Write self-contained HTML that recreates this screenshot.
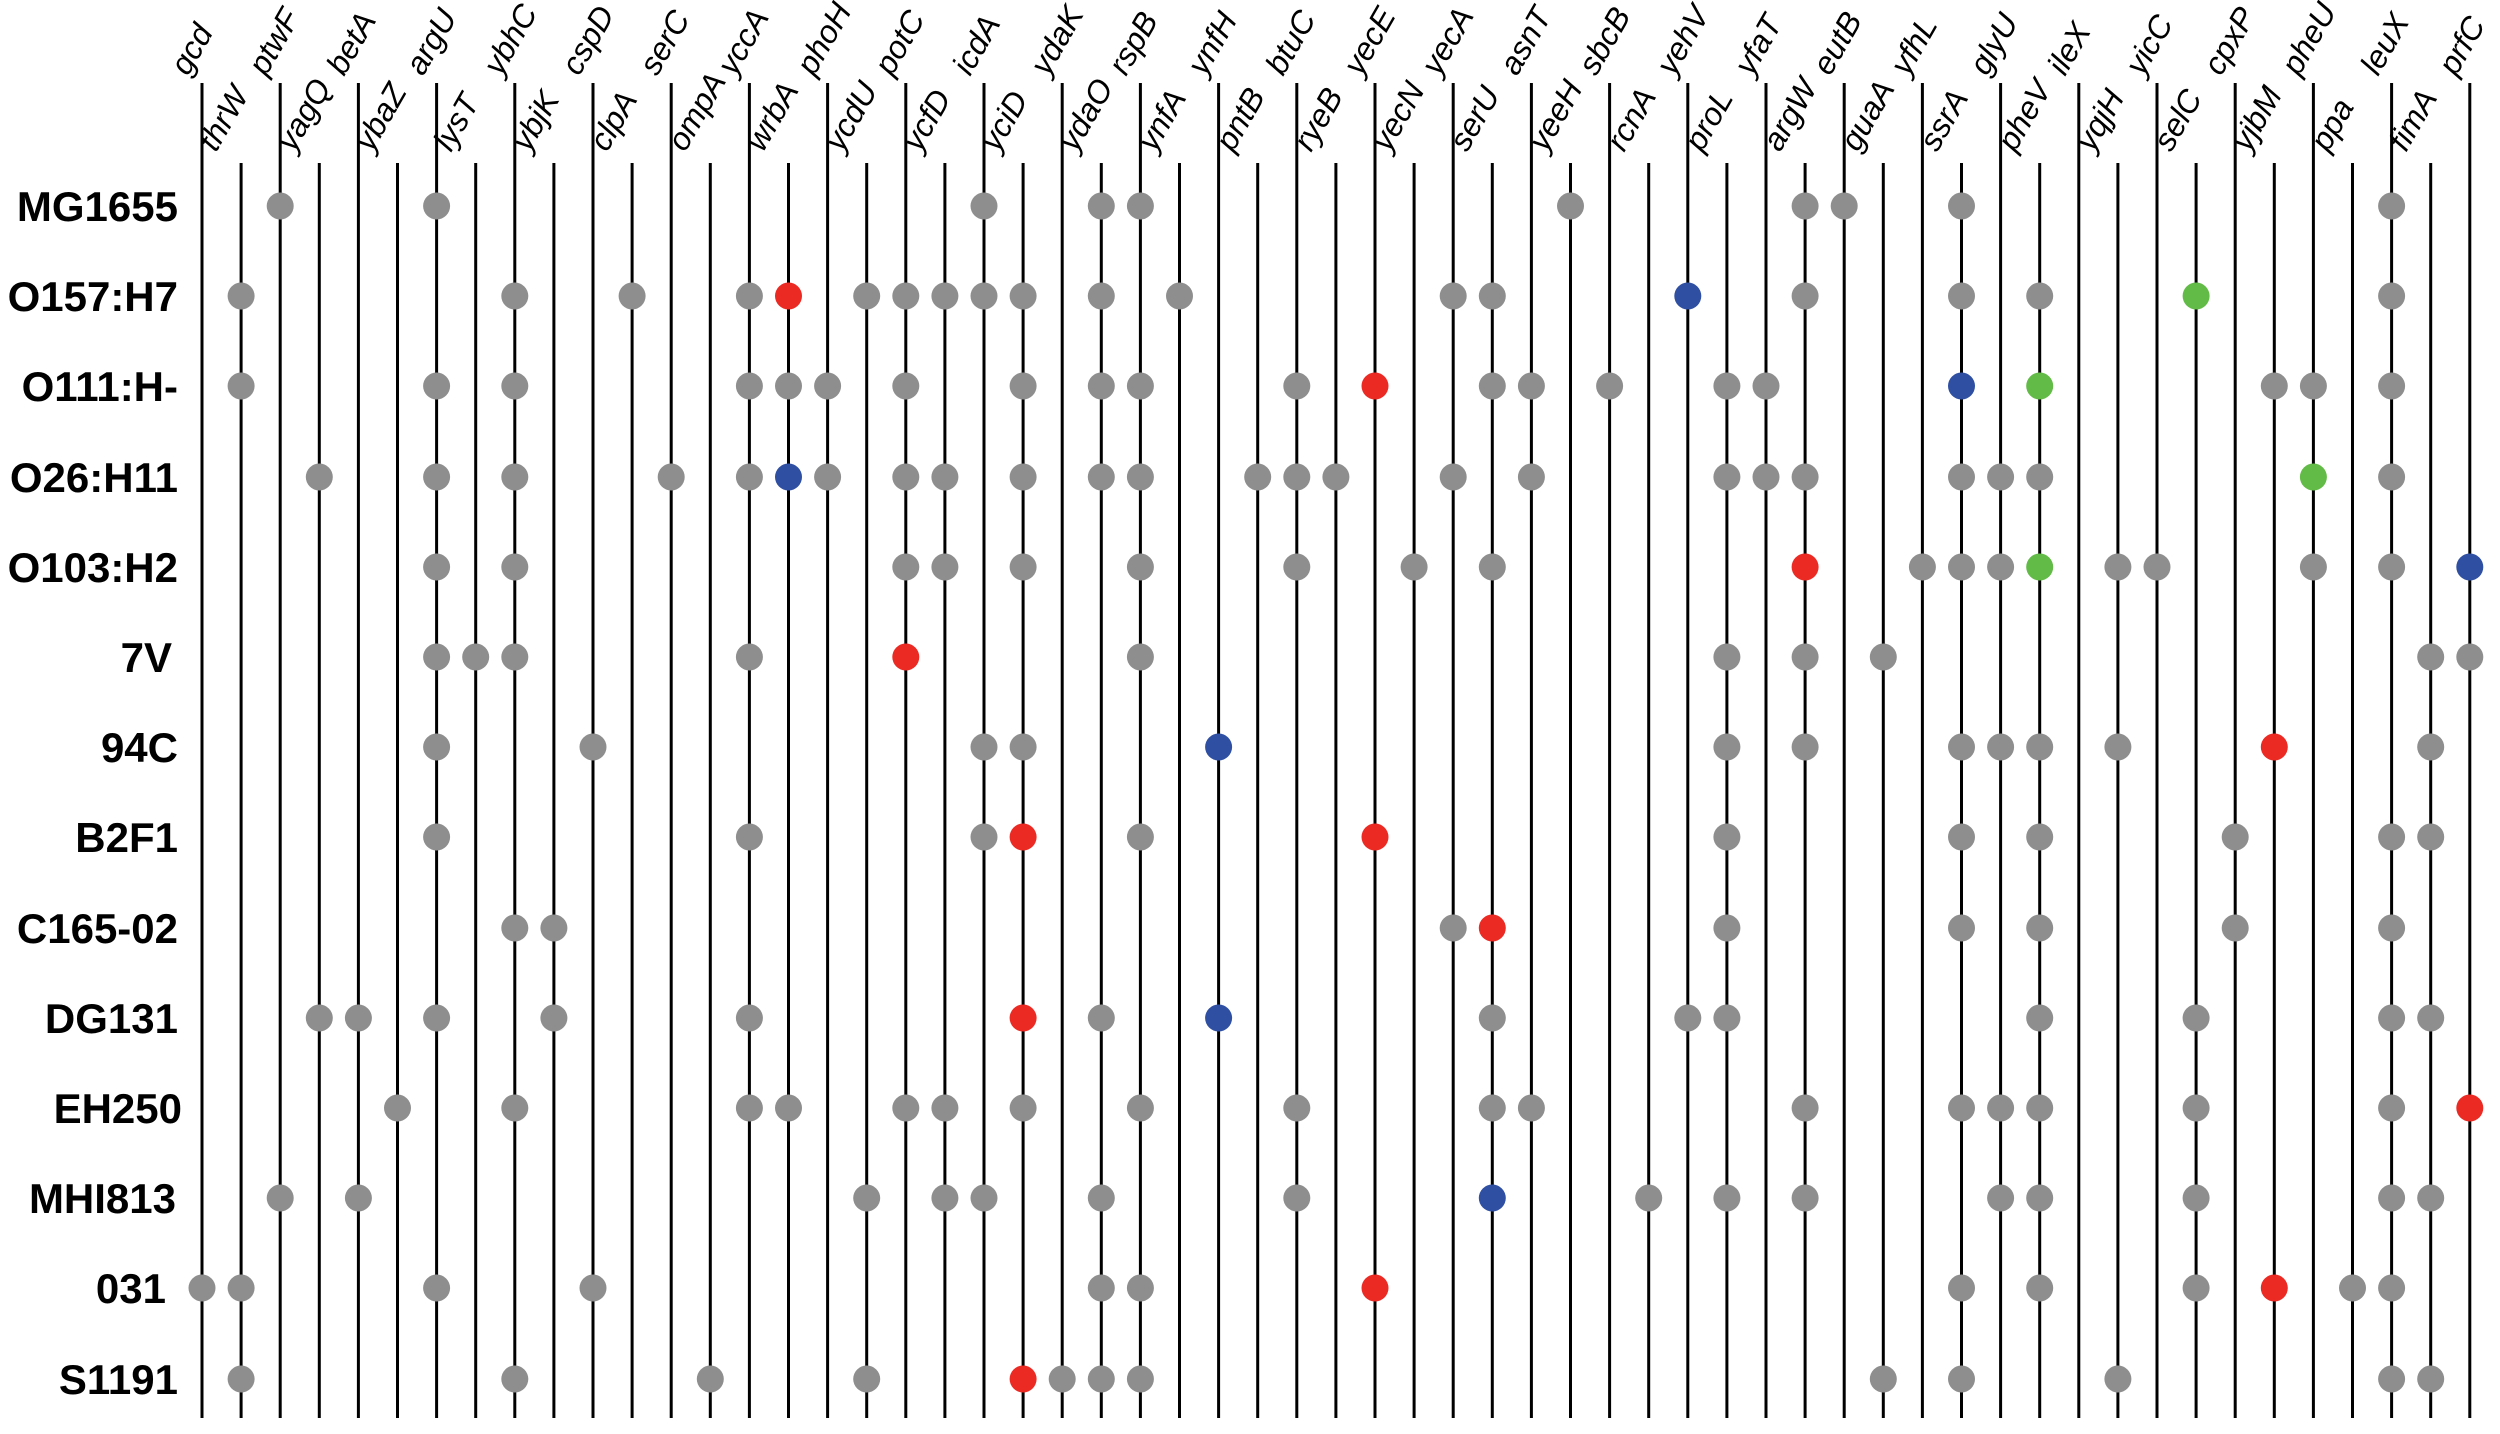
<!DOCTYPE html>
<html><head><meta charset="utf-8"><style>
html,body{margin:0;padding:0;background:#fff;}
svg{display:block;}
.g{font-family:"Liberation Sans",sans-serif;font-style:italic;font-size:32px;fill:#000;}
.r{font-family:"Liberation Sans",sans-serif;font-weight:bold;font-size:42px;fill:#000;text-anchor:end;}
line{stroke:#000;stroke-width:3;}
circle{r:13.5px;}
.a{fill:#8e8e8e;} .R{fill:#ec2a24;} .B{fill:#2f4fa3;} .G{fill:#62bb46;}
</style></head><body>
<svg width="2500" height="1434" viewBox="0 0 2500 1434" xmlns="http://www.w3.org/2000/svg">
<g id="lines">
<line x1="202" y1="83" x2="202" y2="1418"/><line x1="241.1" y1="163" x2="241.1" y2="1418"/>
<line x1="280.2" y1="83" x2="280.2" y2="1418"/><line x1="319.3" y1="163" x2="319.3" y2="1418"/>
<line x1="358.4" y1="83" x2="358.4" y2="1418"/><line x1="397.5" y1="163" x2="397.5" y2="1418"/>
<line x1="436.6" y1="83" x2="436.6" y2="1418"/><line x1="475.7" y1="163" x2="475.7" y2="1418"/>
<line x1="514.8" y1="83" x2="514.8" y2="1418"/><line x1="553.9" y1="163" x2="553.9" y2="1418"/>
<line x1="593" y1="83" x2="593" y2="1418"/><line x1="632.1" y1="163" x2="632.1" y2="1418"/>
<line x1="671.2" y1="83" x2="671.2" y2="1418"/><line x1="710.3" y1="163" x2="710.3" y2="1418"/>
<line x1="749.4" y1="83" x2="749.4" y2="1418"/><line x1="788.5" y1="163" x2="788.5" y2="1418"/>
<line x1="827.6" y1="83" x2="827.6" y2="1418"/><line x1="866.7" y1="163" x2="866.7" y2="1418"/>
<line x1="905.8" y1="83" x2="905.8" y2="1418"/><line x1="944.9" y1="163" x2="944.9" y2="1418"/>
<line x1="984" y1="83" x2="984" y2="1418"/><line x1="1023.1" y1="163" x2="1023.1" y2="1418"/>
<line x1="1062.2" y1="83" x2="1062.2" y2="1418"/><line x1="1101.3" y1="163" x2="1101.3" y2="1418"/>
<line x1="1140.4" y1="83" x2="1140.4" y2="1418"/><line x1="1179.5" y1="163" x2="1179.5" y2="1418"/>
<line x1="1218.6" y1="83" x2="1218.6" y2="1418"/><line x1="1257.7" y1="163" x2="1257.7" y2="1418"/>
<line x1="1296.8" y1="83" x2="1296.8" y2="1418"/><line x1="1335.9" y1="163" x2="1335.9" y2="1418"/>
<line x1="1375" y1="83" x2="1375" y2="1418"/><line x1="1414.1" y1="163" x2="1414.1" y2="1418"/>
<line x1="1453.2" y1="83" x2="1453.2" y2="1418"/><line x1="1492.3" y1="163" x2="1492.3" y2="1418"/>
<line x1="1531.4" y1="83" x2="1531.4" y2="1418"/><line x1="1570.5" y1="163" x2="1570.5" y2="1418"/>
<line x1="1609.6" y1="83" x2="1609.6" y2="1418"/><line x1="1648.7" y1="163" x2="1648.7" y2="1418"/>
<line x1="1687.8" y1="83" x2="1687.8" y2="1418"/><line x1="1726.9" y1="163" x2="1726.9" y2="1418"/>
<line x1="1766" y1="83" x2="1766" y2="1418"/><line x1="1805.1" y1="163" x2="1805.1" y2="1418"/>
<line x1="1844.2" y1="83" x2="1844.2" y2="1418"/><line x1="1883.3" y1="163" x2="1883.3" y2="1418"/>
<line x1="1922.4" y1="83" x2="1922.4" y2="1418"/><line x1="1961.5" y1="163" x2="1961.5" y2="1418"/>
<line x1="2000.6" y1="83" x2="2000.6" y2="1418"/><line x1="2039.7" y1="163" x2="2039.7" y2="1418"/>
<line x1="2078.8" y1="83" x2="2078.8" y2="1418"/><line x1="2117.9" y1="163" x2="2117.9" y2="1418"/>
<line x1="2157" y1="83" x2="2157" y2="1418"/><line x1="2196.1" y1="163" x2="2196.1" y2="1418"/>
<line x1="2235.2" y1="83" x2="2235.2" y2="1418"/><line x1="2274.3" y1="163" x2="2274.3" y2="1418"/>
<line x1="2313.4" y1="83" x2="2313.4" y2="1418"/><line x1="2352.5" y1="163" x2="2352.5" y2="1418"/>
<line x1="2391.6" y1="83" x2="2391.6" y2="1418"/><line x1="2430.7" y1="163" x2="2430.7" y2="1418"/>
<line x1="2469.8" y1="83" x2="2469.8" y2="1418"/>
</g>
<g class="g">
<text transform="translate(188,77) rotate(-60)">gcd</text>
<text transform="translate(216,153) rotate(-60)">thrW</text>
<text transform="translate(266,77) rotate(-60)">ptwF</text>
<text transform="translate(294,153) rotate(-60)">yagQ</text>
<text transform="translate(344,77) rotate(-60)">betA</text>
<text transform="translate(372,153) rotate(-60)">ybaZ</text>
<text transform="translate(423,77) rotate(-60)">argU</text>
<text transform="translate(451,153) rotate(-60)">lysT</text>
<text transform="translate(501,77) rotate(-60)">ybhC</text>
<text transform="translate(529,153) rotate(-60)">ybjK</text>
<text transform="translate(579,77) rotate(-60)">cspD</text>
<text transform="translate(607,153) rotate(-60)">clpA</text>
<text transform="translate(657,77) rotate(-60)">serC</text>
<text transform="translate(685,153) rotate(-60)">ompA</text>
<text transform="translate(735,77) rotate(-60)">yccA</text>
<text transform="translate(763,153) rotate(-60)">wrbA</text>
<text transform="translate(814,77) rotate(-60)">phoH</text>
<text transform="translate(842,153) rotate(-60)">ycdU</text>
<text transform="translate(892,77) rotate(-60)">potC</text>
<text transform="translate(920,153) rotate(-60)">ycfD</text>
<text transform="translate(970,77) rotate(-60)">icdA</text>
<text transform="translate(998,153) rotate(-60)">yciD</text>
<text transform="translate(1048,77) rotate(-60)">ydaK</text>
<text transform="translate(1076,153) rotate(-60)">ydaO</text>
<text transform="translate(1126,77) rotate(-60)">rspB</text>
<text transform="translate(1155,153) rotate(-60)">ynfA</text>
<text transform="translate(1205,77) rotate(-60)">ynfH</text>
<text transform="translate(1233,153) rotate(-60)">pntB</text>
<text transform="translate(1283,77) rotate(-60)">btuC</text>
<text transform="translate(1311,153) rotate(-60)">ryeB</text>
<text transform="translate(1361,77) rotate(-60)">yecE</text>
<text transform="translate(1389,153) rotate(-60)">yecN</text>
<text transform="translate(1439,77) rotate(-60)">yecA</text>
<text transform="translate(1467,153) rotate(-60)">serU</text>
<text transform="translate(1517,77) rotate(-60)">asnT</text>
<text transform="translate(1546,153) rotate(-60)">yeeH</text>
<text transform="translate(1596,77) rotate(-60)">sbcB</text>
<text transform="translate(1624,153) rotate(-60)">rcnA</text>
<text transform="translate(1674,77) rotate(-60)">yehV</text>
<text transform="translate(1702,153) rotate(-60)">proL</text>
<text transform="translate(1752,77) rotate(-60)">yfaT</text>
<text transform="translate(1780,153) rotate(-60)">argW</text>
<text transform="translate(1830,77) rotate(-60)">eutB</text>
<text transform="translate(1858,153) rotate(-60)">guaA</text>
<text transform="translate(1908,77) rotate(-60)">yfhL</text>
<text transform="translate(1937,153) rotate(-60)">ssrA</text>
<text transform="translate(1987,77) rotate(-60)">glyU</text>
<text transform="translate(2015,153) rotate(-60)">pheV</text>
<text transform="translate(2065,77) rotate(-60)">ileX</text>
<text transform="translate(2093,153) rotate(-60)">yqjH</text>
<text transform="translate(2143,77) rotate(-60)">yicC</text>
<text transform="translate(2171,153) rotate(-60)">selC</text>
<text transform="translate(2221,77) rotate(-60)">cpxP</text>
<text transform="translate(2249,153) rotate(-60)">yjbM</text>
<text transform="translate(2299,77) rotate(-60)">pheU</text>
<text transform="translate(2328,153) rotate(-60)">ppa</text>
<text transform="translate(2378,77) rotate(-60)">leuX</text>
<text transform="translate(2406,153) rotate(-60)">fimA</text>
<text transform="translate(2456,77) rotate(-60)">prfC</text>
</g>
<g>
<text class="r" x="178" y="221">MG1655</text>
<text class="r" x="178" y="311">O157:H7</text>
<text class="r" x="178" y="401">O111:H-</text>
<text class="r" x="178" y="492">O26:H11</text>
<text class="r" x="178" y="582">O103:H2</text>
<text class="r" x="172" y="672">7V</text>
<text class="r" x="178" y="762">94C</text>
<text class="r" x="178" y="852">B2F1</text>
<text class="r" x="178" y="943">C165-02</text>
<text class="r" x="178" y="1033">DG131</text>
<text class="r" x="182" y="1123">EH250</text>
<text class="r" x="176" y="1213">MHI813</text>
<text class="r" x="166" y="1303">031</text>
<text class="r" x="178" y="1394">S1191</text>
</g>
<g transform="translate(0,206)">
<circle class="a" cx="280.2" cy="0"/><circle class="a" cx="436.6" cy="0"/><circle class="a" cx="984" cy="0"/><circle class="a" cx="1101.3" cy="0"/><circle class="a" cx="1140.4" cy="0"/><circle class="a" cx="1570.5" cy="0"/><circle class="a" cx="1805.1" cy="0"/><circle class="a" cx="1844.2" cy="0"/><circle class="a" cx="1961.5" cy="0"/><circle class="a" cx="2391.6" cy="0"/>
</g>
<g transform="translate(0,296)">
<circle class="a" cx="241.1" cy="0"/><circle class="a" cx="514.8" cy="0"/><circle class="a" cx="632.1" cy="0"/><circle class="a" cx="749.4" cy="0"/><circle class="R" cx="788.5" cy="0"/><circle class="a" cx="866.7" cy="0"/><circle class="a" cx="905.8" cy="0"/><circle class="a" cx="944.9" cy="0"/><circle class="a" cx="984" cy="0"/><circle class="a" cx="1023.1" cy="0"/><circle class="a" cx="1101.3" cy="0"/><circle class="a" cx="1179.5" cy="0"/><circle class="a" cx="1453.2" cy="0"/><circle class="a" cx="1492.3" cy="0"/><circle class="B" cx="1687.8" cy="0"/><circle class="a" cx="1805.1" cy="0"/><circle class="a" cx="1961.5" cy="0"/><circle class="a" cx="2039.7" cy="0"/><circle class="G" cx="2196.1" cy="0"/><circle class="a" cx="2391.6" cy="0"/>
</g>
<g transform="translate(0,386)">
<circle class="a" cx="241.1" cy="0"/><circle class="a" cx="436.6" cy="0"/><circle class="a" cx="514.8" cy="0"/><circle class="a" cx="749.4" cy="0"/><circle class="a" cx="788.5" cy="0"/><circle class="a" cx="827.6" cy="0"/><circle class="a" cx="905.8" cy="0"/><circle class="a" cx="1023.1" cy="0"/><circle class="a" cx="1101.3" cy="0"/><circle class="a" cx="1140.4" cy="0"/><circle class="a" cx="1296.8" cy="0"/><circle class="R" cx="1375" cy="0"/><circle class="a" cx="1492.3" cy="0"/><circle class="a" cx="1531.4" cy="0"/><circle class="a" cx="1609.6" cy="0"/><circle class="a" cx="1726.9" cy="0"/><circle class="a" cx="1766" cy="0"/><circle class="B" cx="1961.5" cy="0"/><circle class="G" cx="2039.7" cy="0"/><circle class="a" cx="2274.3" cy="0"/><circle class="a" cx="2313.4" cy="0"/><circle class="a" cx="2391.6" cy="0"/>
</g>
<g transform="translate(0,477)">
<circle class="a" cx="319.3" cy="0"/><circle class="a" cx="436.6" cy="0"/><circle class="a" cx="514.8" cy="0"/><circle class="a" cx="671.2" cy="0"/><circle class="a" cx="749.4" cy="0"/><circle class="B" cx="788.5" cy="0"/><circle class="a" cx="827.6" cy="0"/><circle class="a" cx="905.8" cy="0"/><circle class="a" cx="944.9" cy="0"/><circle class="a" cx="1023.1" cy="0"/><circle class="a" cx="1101.3" cy="0"/><circle class="a" cx="1140.4" cy="0"/><circle class="a" cx="1257.7" cy="0"/><circle class="a" cx="1296.8" cy="0"/><circle class="a" cx="1335.9" cy="0"/><circle class="a" cx="1453.2" cy="0"/><circle class="a" cx="1531.4" cy="0"/><circle class="a" cx="1726.9" cy="0"/><circle class="a" cx="1766" cy="0"/><circle class="a" cx="1805.1" cy="0"/><circle class="a" cx="1961.5" cy="0"/><circle class="a" cx="2000.6" cy="0"/><circle class="a" cx="2039.7" cy="0"/><circle class="G" cx="2313.4" cy="0"/><circle class="a" cx="2391.6" cy="0"/>
</g>
<g transform="translate(0,567)">
<circle class="a" cx="436.6" cy="0"/><circle class="a" cx="514.8" cy="0"/><circle class="a" cx="905.8" cy="0"/><circle class="a" cx="944.9" cy="0"/><circle class="a" cx="1023.1" cy="0"/><circle class="a" cx="1140.4" cy="0"/><circle class="a" cx="1296.8" cy="0"/><circle class="a" cx="1414.1" cy="0"/><circle class="a" cx="1492.3" cy="0"/><circle class="R" cx="1805.1" cy="0"/><circle class="a" cx="1922.4" cy="0"/><circle class="a" cx="1961.5" cy="0"/><circle class="a" cx="2000.6" cy="0"/><circle class="G" cx="2039.7" cy="0"/><circle class="a" cx="2117.9" cy="0"/><circle class="a" cx="2157" cy="0"/><circle class="a" cx="2313.4" cy="0"/><circle class="a" cx="2391.6" cy="0"/><circle class="B" cx="2469.8" cy="0"/>
</g>
<g transform="translate(0,657)">
<circle class="a" cx="436.6" cy="0"/><circle class="a" cx="475.7" cy="0"/><circle class="a" cx="514.8" cy="0"/><circle class="a" cx="749.4" cy="0"/><circle class="R" cx="905.8" cy="0"/><circle class="a" cx="1140.4" cy="0"/><circle class="a" cx="1726.9" cy="0"/><circle class="a" cx="1805.1" cy="0"/><circle class="a" cx="1883.3" cy="0"/><circle class="a" cx="2430.7" cy="0"/><circle class="a" cx="2469.8" cy="0"/>
</g>
<g transform="translate(0,747)">
<circle class="a" cx="436.6" cy="0"/><circle class="a" cx="593" cy="0"/><circle class="a" cx="984" cy="0"/><circle class="a" cx="1023.1" cy="0"/><circle class="B" cx="1218.6" cy="0"/><circle class="a" cx="1726.9" cy="0"/><circle class="a" cx="1805.1" cy="0"/><circle class="a" cx="1961.5" cy="0"/><circle class="a" cx="2000.6" cy="0"/><circle class="a" cx="2039.7" cy="0"/><circle class="a" cx="2117.9" cy="0"/><circle class="R" cx="2274.3" cy="0"/><circle class="a" cx="2430.7" cy="0"/>
</g>
<g transform="translate(0,837)">
<circle class="a" cx="436.6" cy="0"/><circle class="a" cx="749.4" cy="0"/><circle class="a" cx="984" cy="0"/><circle class="R" cx="1023.1" cy="0"/><circle class="a" cx="1140.4" cy="0"/><circle class="R" cx="1375" cy="0"/><circle class="a" cx="1726.9" cy="0"/><circle class="a" cx="1961.5" cy="0"/><circle class="a" cx="2039.7" cy="0"/><circle class="a" cx="2235.2" cy="0"/><circle class="a" cx="2391.6" cy="0"/><circle class="a" cx="2430.7" cy="0"/>
</g>
<g transform="translate(0,928)">
<circle class="a" cx="514.8" cy="0"/><circle class="a" cx="553.9" cy="0"/><circle class="a" cx="1453.2" cy="0"/><circle class="R" cx="1492.3" cy="0"/><circle class="a" cx="1726.9" cy="0"/><circle class="a" cx="1961.5" cy="0"/><circle class="a" cx="2039.7" cy="0"/><circle class="a" cx="2235.2" cy="0"/><circle class="a" cx="2391.6" cy="0"/>
</g>
<g transform="translate(0,1018)">
<circle class="a" cx="319.3" cy="0"/><circle class="a" cx="358.4" cy="0"/><circle class="a" cx="436.6" cy="0"/><circle class="a" cx="553.9" cy="0"/><circle class="a" cx="749.4" cy="0"/><circle class="R" cx="1023.1" cy="0"/><circle class="a" cx="1101.3" cy="0"/><circle class="B" cx="1218.6" cy="0"/><circle class="a" cx="1492.3" cy="0"/><circle class="a" cx="1687.8" cy="0"/><circle class="a" cx="1726.9" cy="0"/><circle class="a" cx="2039.7" cy="0"/><circle class="a" cx="2196.1" cy="0"/><circle class="a" cx="2391.6" cy="0"/><circle class="a" cx="2430.7" cy="0"/>
</g>
<g transform="translate(0,1108)">
<circle class="a" cx="397.5" cy="0"/><circle class="a" cx="514.8" cy="0"/><circle class="a" cx="749.4" cy="0"/><circle class="a" cx="788.5" cy="0"/><circle class="a" cx="905.8" cy="0"/><circle class="a" cx="944.9" cy="0"/><circle class="a" cx="1023.1" cy="0"/><circle class="a" cx="1140.4" cy="0"/><circle class="a" cx="1296.8" cy="0"/><circle class="a" cx="1492.3" cy="0"/><circle class="a" cx="1531.4" cy="0"/><circle class="a" cx="1805.1" cy="0"/><circle class="a" cx="1961.5" cy="0"/><circle class="a" cx="2000.6" cy="0"/><circle class="a" cx="2039.7" cy="0"/><circle class="a" cx="2196.1" cy="0"/><circle class="a" cx="2391.6" cy="0"/><circle class="R" cx="2469.8" cy="0"/>
</g>
<g transform="translate(0,1198)">
<circle class="a" cx="280.2" cy="0"/><circle class="a" cx="358.4" cy="0"/><circle class="a" cx="866.7" cy="0"/><circle class="a" cx="944.9" cy="0"/><circle class="a" cx="984" cy="0"/><circle class="a" cx="1101.3" cy="0"/><circle class="a" cx="1296.8" cy="0"/><circle class="B" cx="1492.3" cy="0"/><circle class="a" cx="1648.7" cy="0"/><circle class="a" cx="1726.9" cy="0"/><circle class="a" cx="1805.1" cy="0"/><circle class="a" cx="2000.6" cy="0"/><circle class="a" cx="2039.7" cy="0"/><circle class="a" cx="2196.1" cy="0"/><circle class="a" cx="2391.6" cy="0"/><circle class="a" cx="2430.7" cy="0"/>
</g>
<g transform="translate(0,1288)">
<circle class="a" cx="202" cy="0"/><circle class="a" cx="241.1" cy="0"/><circle class="a" cx="436.6" cy="0"/><circle class="a" cx="593" cy="0"/><circle class="a" cx="1101.3" cy="0"/><circle class="a" cx="1140.4" cy="0"/><circle class="R" cx="1375" cy="0"/><circle class="a" cx="1961.5" cy="0"/><circle class="a" cx="2039.7" cy="0"/><circle class="a" cx="2196.1" cy="0"/><circle class="R" cx="2274.3" cy="0"/><circle class="a" cx="2352.5" cy="0"/><circle class="a" cx="2391.6" cy="0"/>
</g>
<g transform="translate(0,1379)">
<circle class="a" cx="241.1" cy="0"/><circle class="a" cx="514.8" cy="0"/><circle class="a" cx="710.3" cy="0"/><circle class="a" cx="866.7" cy="0"/><circle class="R" cx="1023.1" cy="0"/><circle class="a" cx="1062.2" cy="0"/><circle class="a" cx="1101.3" cy="0"/><circle class="a" cx="1140.4" cy="0"/><circle class="a" cx="1883.3" cy="0"/><circle class="a" cx="1961.5" cy="0"/><circle class="a" cx="2117.9" cy="0"/><circle class="a" cx="2391.6" cy="0"/><circle class="a" cx="2430.7" cy="0"/>
</g>
</svg>
</body></html>
